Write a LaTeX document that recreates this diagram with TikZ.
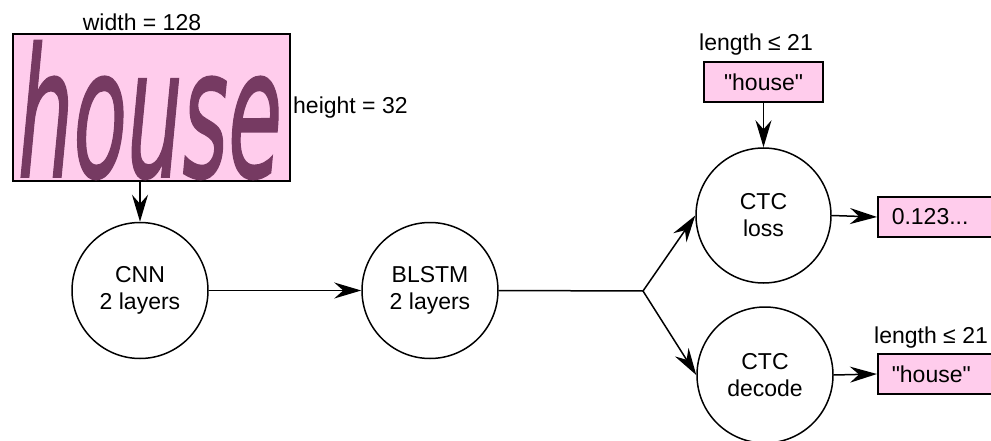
\documentclass[tikz,border=0pt]{standalone}
\usepackage{fontspec}
\newfontfamily\labelfont{Liberation Sans}
\usepackage{graphicx}
\usetikzlibrary{arrows.meta}
\definecolor{pinkfill}{RGB}{255,204,236}
\definecolor{inkpurple}{RGB}{118,58,98}
\tikzset{
  every node/.style={font=\labelfont\fontsize{23}{27}\selectfont, inner sep=0pt},
  flow/.style={draw=black, line width=1.5pt, -{Stealth[length=27pt,width=16pt,inset=9pt]}},
  stage/.style={draw=black, line width=1.5pt, circle, fill=white, align=center},
  tagbox/.style={draw=black, line width=1.5pt, fill=pinkfill, rectangle, anchor=west},
}
\begin{document}
\begin{tikzpicture}[x=1pt,y=-1pt]
\useasboundingbox (0,0) rectangle (991,441);
\clip (0,0) rectangle (991,441);

% input word image
\node[draw=black, line width=1.5pt, fill=pinkfill, minimum width=277pt, minimum height=147pt] (img) at (151.5,107.5) {};
\node[text=inkpurple] (word) at (150,110)
  {\resizebox{264pt}{136pt}{\fontspec{DejaVu Sans}[FakeBold=1.2]\itshape house}};
\node (wlab) at (142,22) {width = 128};
\node[anchor=west] (hlab) at (293,108) {height = 32};

% network stages
\node[stage, minimum size=136pt] (cnn) at (140,290.5) {CNN\\2 layers};
\node[stage, minimum size=136pt] (blstm) at (430,290.5) {BLSTM\\2 layers};
\coordinate (split) at (643,291);
\node[stage, minimum size=135pt] (loss) at (763.5,215.5) {CTC\\loss};
\node[stage, minimum size=136pt] (decode) at (765,375) {CTC\\decode};

% ground truth and outputs
\node[tagbox, minimum width=119pt, minimum height=40pt, anchor=center] (gt) at (763.5,82) {"house"};
\node (gtlab) at (756,45) {length ≤ 21};
\node[tagbox, minimum width=130pt, minimum height=40pt, text width=116pt, align=left, inner xsep=14pt] (lossval) at (877,217) {0.123...};
\node[tagbox, minimum width=130pt, minimum height=40pt, text width=116pt, align=left, inner xsep=14pt] (decval) at (877,374) {"house"};
\node[anchor=west] (declab) at (874,338) {length ≤ 21};

% connectors
\draw[flow] (img.south -| cnn.north) -- (cnn.north);
\draw[flow] (cnn.east) -- (blstm.west);
\draw[line width=1.5pt] (blstm.east) -- (split);
\draw[flow] (split) -- (loss.west);
\draw[flow] (split) -- (decode.west);
\draw[flow] (gt.south -| loss.north) -- (loss.north);
\draw[flow] (loss.east) -- (lossval.west);
\draw[flow] (decode.east) -- (decval.west);
\end{tikzpicture}
\end{document}
